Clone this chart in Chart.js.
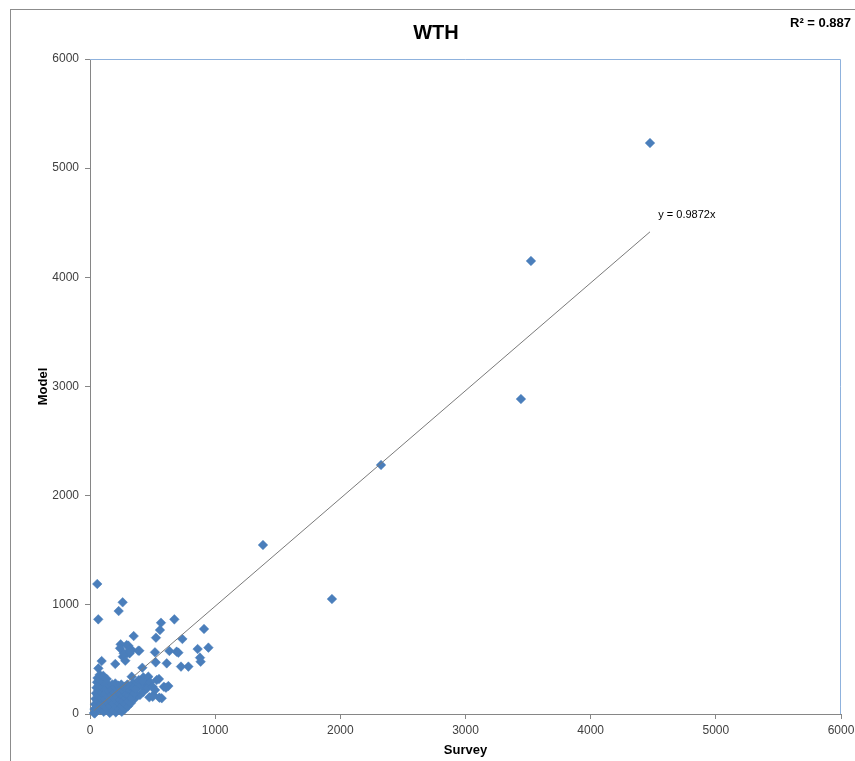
<!DOCTYPE html>
<html>
<head>
<meta charset="utf-8">
<script src="https://cdn.jsdelivr.net/npm/chart.js@4/dist/chart.umd.min.js"></script>
<style>
html,body{margin:0;padding:0;background:#fff;overflow:hidden}
#wrap{width:855px;height:761px;position:relative}
canvas{display:block}
</style>
</head>
<body>
<div id="wrap"><canvas id="c" width="855" height="761"></canvas></div>
<script>
const chartTitle = 'WTH';
const xAxisTitle = 'Survey';
const yAxisTitle = 'Model';
const r2Label = 'R\u00B2 = 0.887';
const trendLabel = 'y = 0.9872x';
const trendSlope = 0.9872;
const xTickValues = [0, 1000, 2000, 3000, 4000, 5000, 6000];
const yTickValues = [0, 1000, 2000, 3000, 4000, 5000, 6000];

// Survey (x) values
const surveyValues = [
  4474, 3523, 3443, 2325, 1382, 1933,
  58, 261, 229, 66, 674, 567, 559, 911, 527, 349,
  738, 293, 245, 386, 946, 860, 634, 692, 519, 706,
  300, 262, 330, 316, 879, 884, 93, 202, 282, 525,
  613, 727, 786, 418, 67, 333, 426, 551, 533, 453,
  626, 590, 399, 506, 573, 360, 474, 554, 426, 380,
  440, 345, 306, 320, 269, 394, 607, 367, 466, 501,
  240, 322,
  32, 36, 40, 44, 48, 52, 56, 60, 38, 50,
  58, 62, 66, 70, 74, 78, 82, 86, 90, 94,
  98, 102, 106, 110, 114, 118, 122, 126, 130, 134,
  138, 142, 146, 150, 154, 158, 162, 166, 170, 174,
  178, 182, 186, 190, 194, 198, 202, 206, 210, 214,
  218, 222, 226, 230, 234, 238, 242, 246, 250, 254,
  258, 262, 266, 270, 274, 278, 282, 286, 290, 294,
  298, 302, 306, 310, 315, 320, 326, 332, 338, 345,
  355, 365, 375, 390, 410, 420, 460, 480, 500, 520
];

// Model (y) values, same order as surveyValues
const modelValues = [
  5230, 4150, 2885, 2281, 1548, 1053,
  1191, 1023, 943, 867, 867, 836, 769, 779, 699, 714,
  687, 632, 638, 580, 608, 595, 577, 571, 565, 562,
  560, 525, 590, 555, 516, 479, 485, 458, 488, 473,
  464, 434, 434, 424, 418, 342, 336, 321, 311, 281,
  256, 250, 174, 174, 144, 144, 153, 150, 204, 240,
  260, 280, 626, 593, 556, 580, 241, 275, 342, 158,
  602, 571,
  10, 45, 90, 140, 190, 240, 290, 330, 5, 60,
  120, 170, 215, 260, 310, 360, 40, 95, 150, 200,
  250, 300, 350, 20, 75, 130, 180, 230, 280, 320,
  50, 105, 160, 210, 260, 10, 70, 125, 175, 225,
  270, 35, 90, 140, 190, 240, 280, 15, 60, 110,
  160, 210, 260, 40, 90, 135, 185, 230, 270, 20,
  70, 115, 165, 210, 250, 45, 95, 140, 185, 230,
  270, 70, 120, 170, 215, 255, 100, 150, 200, 240,
  190, 230, 290, 310, 260, 300, 240, 290, 250, 220
];

const fontFamily = "'Liberation Sans Narrow', 'Liberation Sans', Arial, sans-serif";
const scatterData = surveyValues.map((v, i) => ({ x: v, y: modelValues[i] }));
const minX = Math.min(...surveyValues);
const maxX = Math.max(...surveyValues);
const trendData = [
  { x: minX, y: trendSlope * minX },
  { x: maxX, y: trendSlope * maxX }
];

const decor = {
  id: 'decor',
  beforeDraw(chart) {
    const ctx = chart.ctx;
    ctx.save();
    ctx.fillStyle = '#ffffff';
    ctx.fillRect(0, 0, chart.width, chart.height);
    ctx.strokeStyle = '#8c8c8c';
    ctx.lineWidth = 1;
    ctx.strokeRect(10.5, 9.5, 1000, 1000);
    ctx.restore();
  },
  beforeDatasetsDraw(chart) {
    const ctx = chart.ctx;
    const a = chart.chartArea;
    ctx.save();
    ctx.strokeStyle = '#8fb2dd';
    ctx.lineWidth = 1;
    ctx.beginPath();
    ctx.moveTo(a.left, a.top + 0.5);
    ctx.lineTo(a.right - 0.5, a.top + 0.5);
    ctx.lineTo(a.right - 0.5, a.bottom);
    ctx.stroke();
    ctx.restore();
  },
  afterDraw(chart) {
    const ctx = chart.ctx;
    const xs = chart.scales.x, ys = chart.scales.y;
    ctx.save();
    ctx.fillStyle = '#000000';
    ctx.textBaseline = 'middle';
    ctx.textAlign = 'center';
    ctx.font = 'bold 20px ' + fontFamily;
    ctx.fillText(chartTitle, 436, 33);
    ctx.textAlign = 'left';
    ctx.font = 'bold 13px ' + fontFamily;
    ctx.fillText(r2Label, 790, 23);
    ctx.font = '11px ' + fontFamily;
    ctx.fillText(trendLabel, xs.getPixelForValue(4540), ys.getPixelForValue(4570));
    ctx.restore();
  }
};

new Chart(document.getElementById('c'), {
  type: 'scatter',
  data: {
    datasets: [
      {
        type: 'line',
        label: 'Trend',
        data: trendData,
        borderColor: '#7a7a7a',
        borderWidth: 1,
        pointRadius: 0,
        fill: false,
        order: 0
      },
      {
        label: 'WTH',
        data: scatterData,
        pointStyle: 'rectRot',
        pointRadius: 4.8,
        pointHoverRadius: 4.8,
        backgroundColor: '#4a7ebb',
        borderColor: '#4a7ebb',
        borderWidth: 0.5,
        clip: false,
        order: 1
      }
    ]
  },
  options: {
    responsive: false,
    animation: false,
    devicePixelRatio: 1,
    layout: { padding: { left: 0, top: 59, right: 14, bottom: 0 } },
    plugins: {
      legend: { display: false },
      title: { display: false },
      tooltip: { enabled: false }
    },
    scales: {
      x: {
        type: 'linear',
        position: 'bottom',
        min: 0, max: 6000,
        afterBuildTicks: s => { s.ticks = xTickValues.map(v => ({ value: v })); },
        afterFit: s => { s.height = 47; s.paddingLeft = 0; s.paddingRight = 0; },
        ticks: { color: '#404040', padding: 4, maxRotation: 0, callback: v => String(v), font: { family: fontFamily, size: 12 } },
        grid: { drawOnChartArea: false, drawTicks: true, tickLength: 5, color: '#868686' },
        border: { display: true, color: '#868686' },
        title: { display: true, text: xAxisTitle, color: '#000', padding: { top: 0, bottom: 3 }, font: { family: fontFamily, size: 13, weight: 'bold' } }
      },
      y: {
        type: 'linear',
        position: 'left',
        min: 0, max: 6000,
        afterBuildTicks: s => { s.ticks = yTickValues.map(v => ({ value: v })); },
        afterFit: s => { s.width = 90; s.paddingTop = 0; s.paddingBottom = 0; },
        ticks: { color: '#404040', padding: 6, callback: v => String(v), font: { family: fontFamily, size: 12 } },
        grid: { drawOnChartArea: false, drawTicks: true, tickLength: 5, color: '#868686' },
        border: { display: true, color: '#868686' },
        title: { display: true, text: yAxisTitle, color: '#000', padding: { top: 36, bottom: 0 }, font: { family: fontFamily, size: 13, weight: 'bold' } }
      }
    }
  },
  plugins: [decor]
});
</script>
</body>
</html>
